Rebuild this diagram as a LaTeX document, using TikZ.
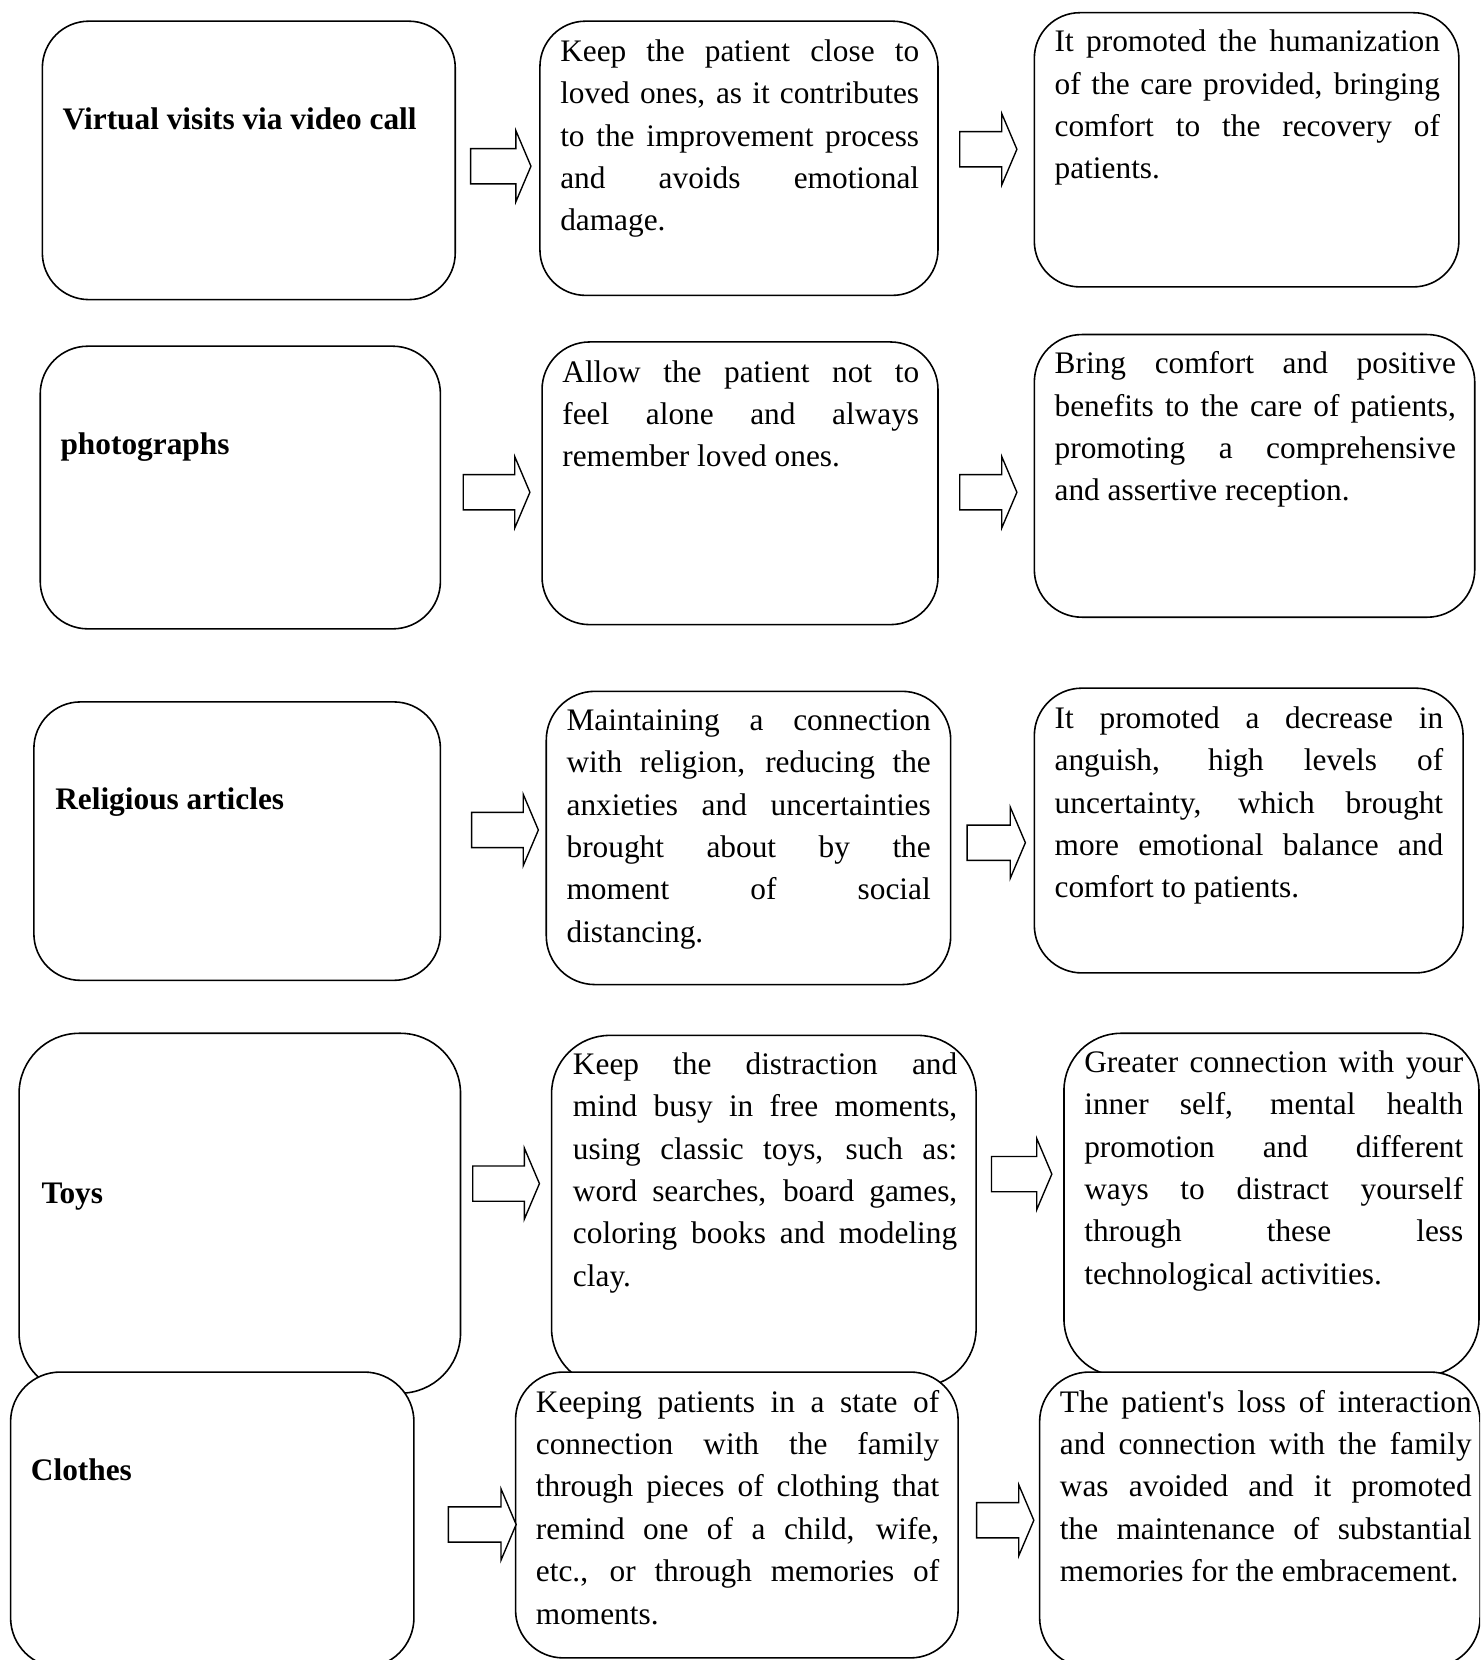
\documentclass[tikz,border=0pt]{standalone}
\usepackage{fontspec}
\setmainfont{Liberation Serif}[Ligatures=TeXOff]
\usetikzlibrary{shapes.arrows}
\tolerance=10000
\hbadness=10000

\begin{document}
\begin{tikzpicture}[x=1pt,y=-1pt,
    box/.style={draw, line width=1.5pt, fill=white, rounded corners=#1pt,
        anchor=north west, inner sep=0pt, outer sep=0pt},
    txt/.style={anchor=base west, inner sep=0pt, align=justify,
        font=\fontsize{29.6}{40}\selectfont},
    head/.style={anchor=base west, inner sep=0pt, font=\fontsize{29.6}{40}\selectfont\bfseries},
    blockarrow/.style={single arrow, draw, line width=1.3pt, fill=white,
        inner xsep=0pt, inner ysep=16pt, single arrow head extend=17pt,
        single arrow tip angle=134, minimum height=#1pt}]
    \useasboundingbox (0,0) rectangle (1398,1568);
    \clip (0,0) rectangle (1398,1568);

    % Row 1: video calls
    \node[box=44, minimum width=390pt, minimum height=263pt] (visits) at (40,20) {};
    \node[box=43, minimum width=376pt, minimum height=259pt] (visits-eff) at (510,20) {};
    \node[box=43, minimum width=401pt, minimum height=259pt] (visits-res) at (977,12) {};
    \node[head] (visits-t) at (59,122) {Virtual visits via video call};
    \node[txt, text width=339pt] (visits-eff-t) at (529,58) {Keep the patient close to\linebreak
        loved ones, as it contributes\linebreak to the improvement process\linebreak
        and avoids emotional\linebreak damage.};
    \node[txt, text width=364pt] (visits-res-t) at (996,49) {It promoted the humanization\linebreak
        of the care provided, bringing\linebreak comfort to the recovery of\linebreak patients.};
    \node[blockarrow=57] (visits-a) at (469.5,157) {};
    \node[blockarrow=54] (visits-b) at (930,141) {};

    % Row 2: photographs
    \node[box=45, minimum width=378pt, minimum height=267pt] (photos) at (38,327) {};
    \node[box=45, minimum width=374pt, minimum height=267pt] (photos-eff) at (512,323) {};
    \node[box=45, minimum width=416pt, minimum height=267pt] (photos-res) at (977,316) {};
    \node[head] (photos-t) at (57,429) {photographs};
    \node[txt, text width=337pt] (photos-eff-t) at (531,361) {Allow the patient not to\linebreak
        feel alone and always\linebreak remember loved ones.};
    \node[txt, text width=379pt] (photos-res-t) at (996,353) {Bring comfort and positive\linebreak
        benefits to the care of patients,\linebreak promoting a comprehensive\linebreak
        and assertive reception.};
    \node[blockarrow=63] (photos-a) at (465.5,465) {};
    \node[blockarrow=54] (photos-b) at (930,465) {};

    % Row 3: religious articles
    \node[box=44, minimum width=384pt, minimum height=263pt] (faith) at (32,663) {};
    \node[box=46, minimum width=382pt, minimum height=277pt] (faith-eff) at (516,653) {};
    \node[box=45, minimum width=405pt, minimum height=269pt] (faith-res) at (977,650) {};
    \node[head] (faith-t) at (52,765) {Religious articles};
    \node[txt, text width=344pt] (faith-eff-t) at (535,690) {Maintaining a connection\linebreak
        with religion, reducing the\linebreak anxieties and uncertainties\linebreak
        brought about by the\linebreak moment of social\linebreak distancing.};
    \node[txt, text width=367pt] (faith-res-t) at (996,688) {It promoted a decrease in\linebreak
        anguish, high levels of\linebreak uncertainty, which brought\linebreak
        more emotional balance and\linebreak comfort to patients.};
    \node[blockarrow=63] (faith-a) at (473.5,784) {};
    \node[blockarrow=55] (faith-b) at (937.5,796) {};

    % Row 4: toys
    \node[box=57, minimum width=417pt, minimum height=340pt] (toys) at (18,976) {};
    \node[box=55, minimum width=401pt, minimum height=332pt] (toys-eff) at (521,978) {};
    \node[box=54, minimum width=392pt, minimum height=324pt] (toys-res) at (1005,976) {};
    \node[head] (toys-t) at (39,1137) {Toys};
    \node[txt, text width=363pt] (toys-eff-t) at (541,1015) {Keep the distraction and\linebreak
        mind busy in free moments,\linebreak using classic toys, such as:\linebreak
        word searches, board games,\linebreak coloring books and modeling\linebreak clay.};
    \node[txt, text width=358pt] (toys-res-t) at (1024,1013) {Greater connection with your\linebreak
        inner self, mental health\linebreak promotion and different\linebreak
        ways to distract yourself\linebreak through these less\linebreak technological activities.};
    \node[blockarrow=63] (toys-a) at (474.5,1118) {};
    \node[blockarrow=57] (toys-b) at (961.5,1109) {};

    % Row 5: clothes
    \node[box=47, minimum width=381pt, minimum height=279pt] (clothes) at (10,1296) {};
    \node[box=45, minimum width=418pt, minimum height=270pt] (clothes-eff) at (487,1296) {};
    \node[box=47, minimum width=416pt, minimum height=279pt] (clothes-res) at (982,1296) {};
    \node[head] (clothes-t) at (29,1398) {Clothes};
    \node[txt, text width=381pt] (clothes-eff-t) at (506,1334) {Keeping patients in a state of\linebreak
        connection with the family\linebreak through pieces of clothing that\linebreak
        remind one of a child, wife,\linebreak etc., or through memories of\linebreak moments.};
    \node[txt, text width=389pt] (clothes-res-t) at (1001,1334) {The patient's loss of interaction\linebreak
        and connection with the family\linebreak was avoided and it promoted\linebreak
        the maintenance of substantial\linebreak memories for the embracement.};
    \node[blockarrow=64] (clothes-a) at (452,1440) {};
    \node[blockarrow=54] (clothes-b) at (946,1436) {};
\end{tikzpicture}
\end{document}
